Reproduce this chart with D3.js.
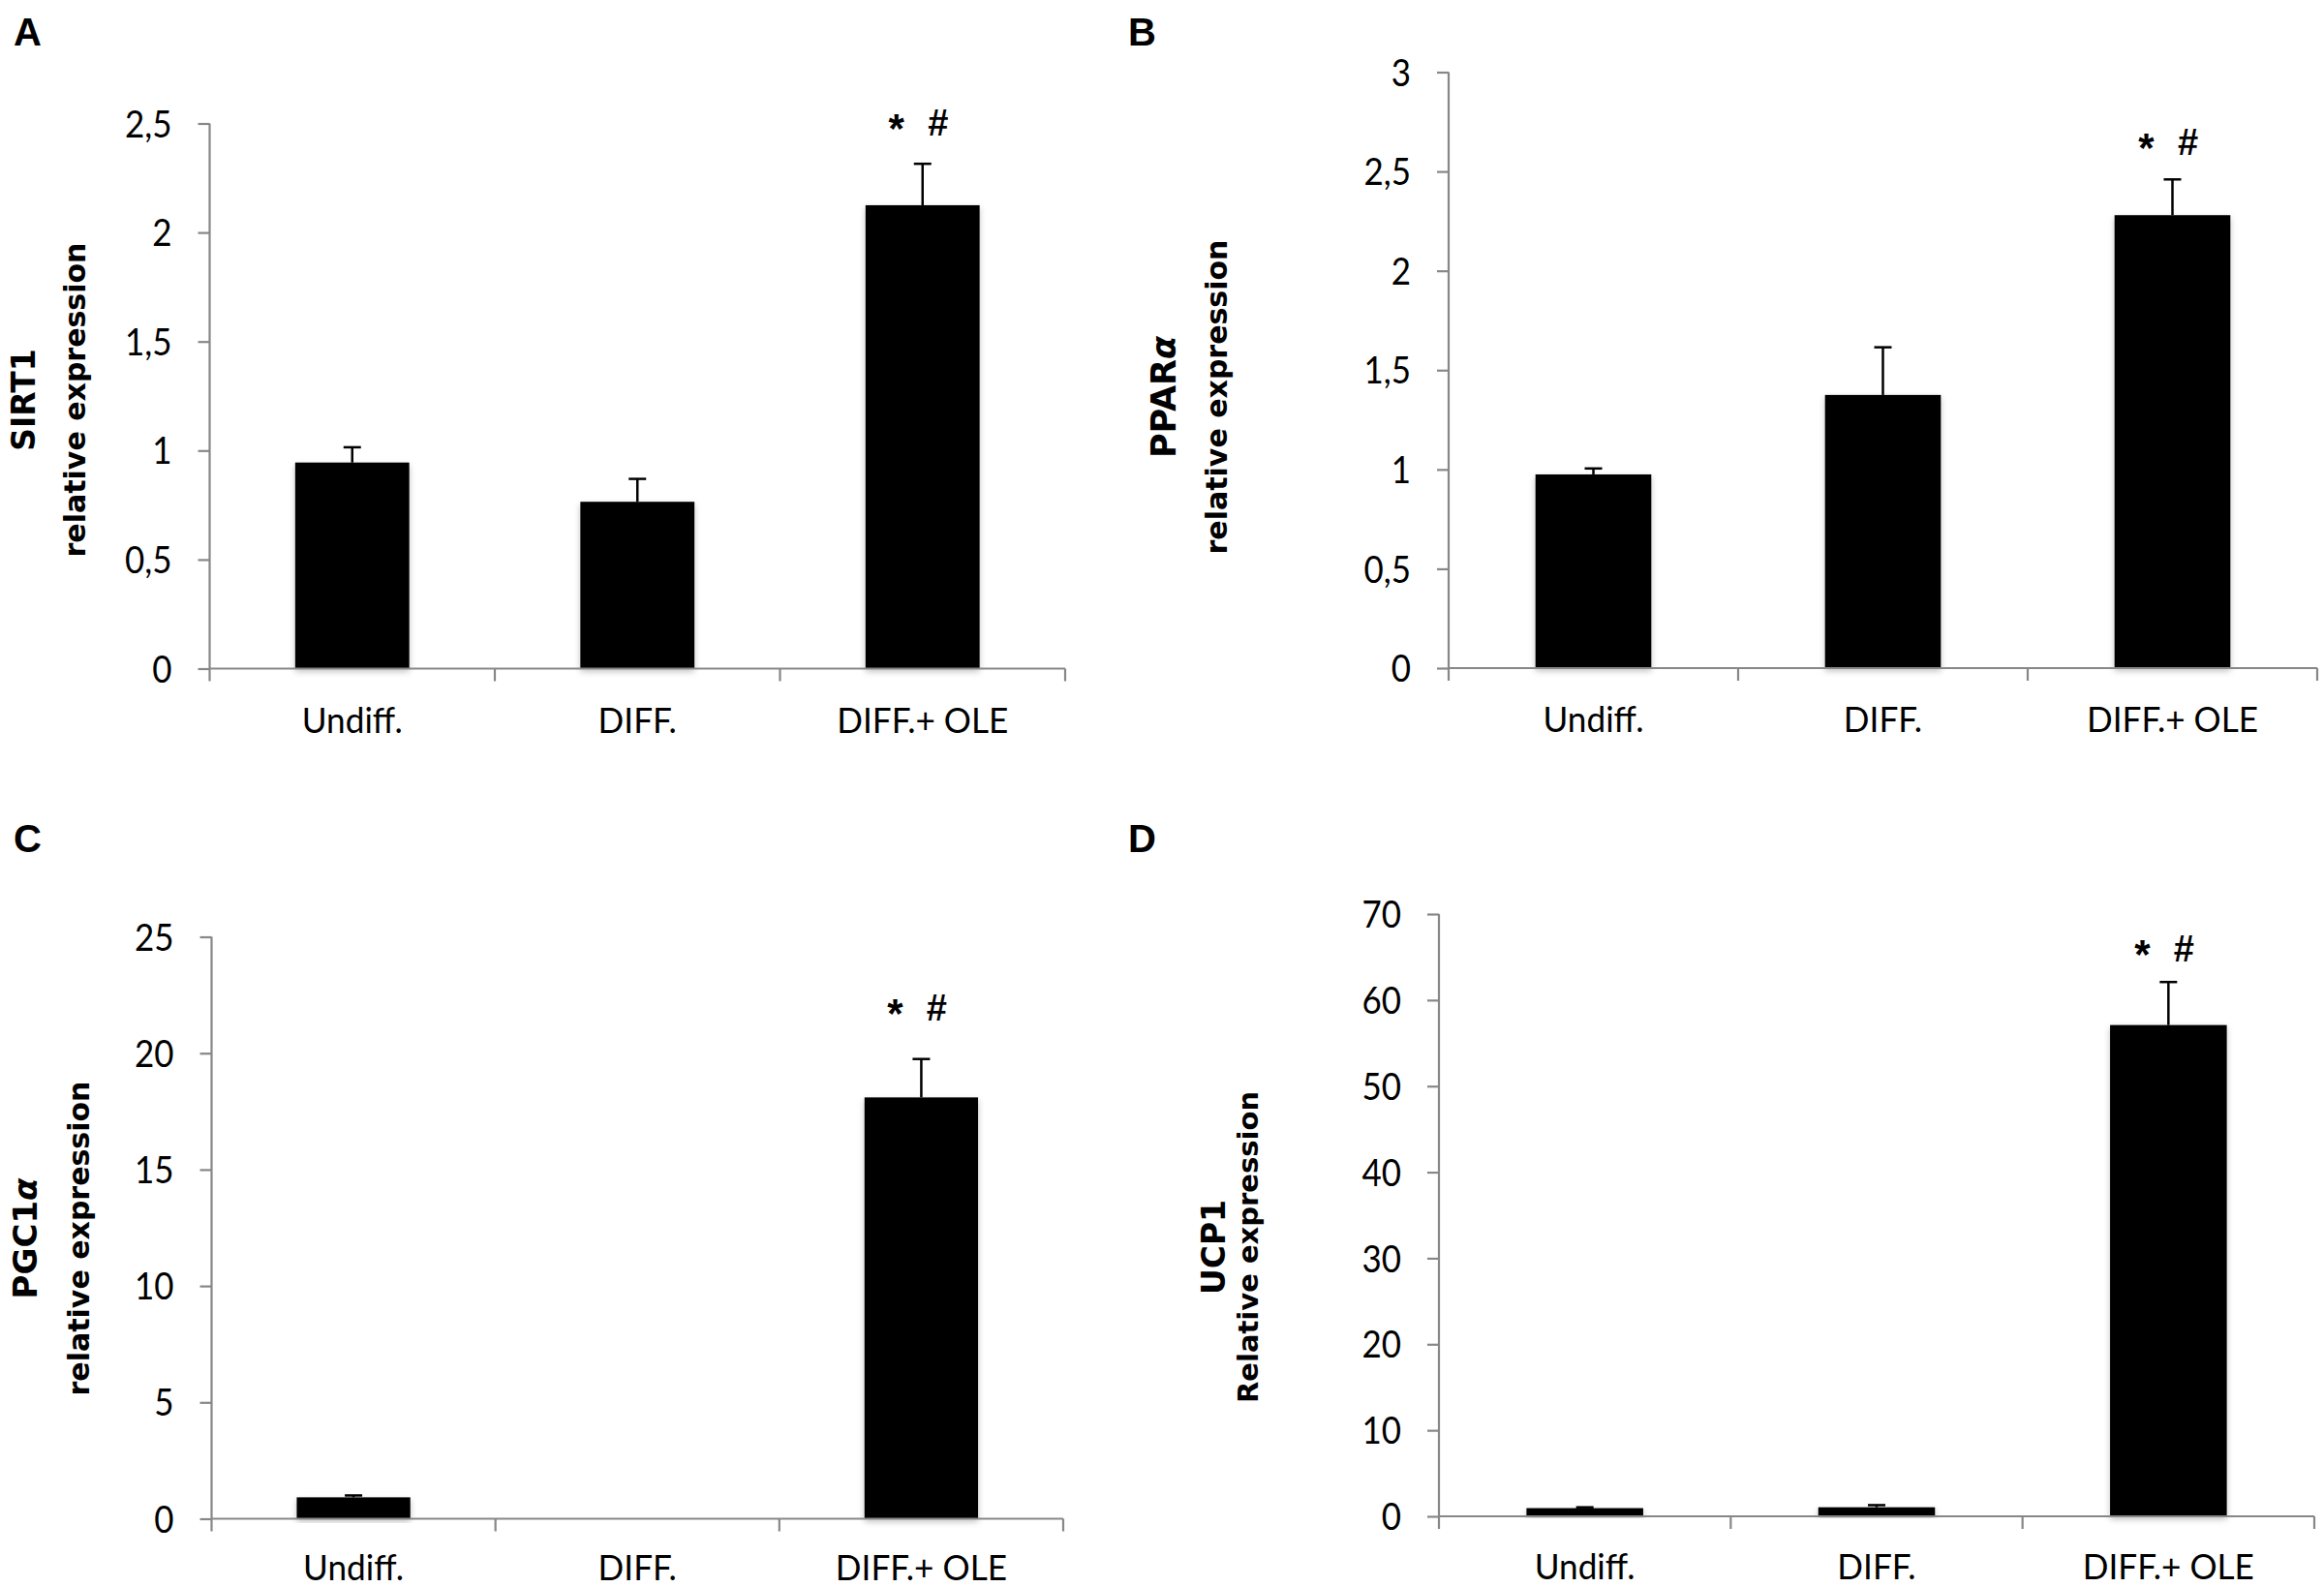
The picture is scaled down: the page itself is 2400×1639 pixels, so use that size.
<!DOCTYPE html>
<html>
<head>
<meta charset="utf-8">
<script src="https://cdn.jsdelivr.net/npm/d3@7"></script>
<style>
  html, body { margin: 0; padding: 0; background: #fff; }
  svg { display: block; }
</style>
</head>
<body>
<script>
// ---------------- DATA ----------------
const categories = ["Undiff.", "DIFF.", "DIFF.+ OLE"];

const sirt1Values = [0.945, 0.765, 2.125];
const sirt1Errors = [0.07, 0.105, 0.19];
const sirt1Ticks  = [0, 0.5, 1, 1.5, 2, 2.5];

const pparaValues = [0.975, 1.375, 2.28];
const pparaErrors = [0.03, 0.24, 0.18];
const pparaTicks  = [0, 0.5, 1, 1.5, 2, 2.5, 3];

const pgc1aValues = [0.92, 0, 18.1];
const pgc1aErrors = [0.08, 0, 1.65];
const pgc1aTicks  = [0, 5, 10, 15, 20, 25];

const ucp1Values = [0.95, 1.05, 57.1];
const ucp1Errors = [0.1, 0.25, 5.0];
const ucp1Ticks  = [0, 10, 20, 30, 40, 50, 60, 70];

const panelLetters = ["A", "B", "C", "D"];
const geneNames = ["SIRT1", "PPAR", "PGC1", "UCP1"];
const geneGreek = ["", "α", "α", ""];
const subLabels = ["relative expression", "relative expression", "relative expression", "Relative expression"];
const significance = ["*", "#"];
const significanceLevel = [2.5, 2.64, 21.9, 65.8]; // value level of "* #" marks above last bar

// ---------------- LAYOUT ----------------
const W = 2400, H = 1639;
const svg = d3.select("body").append("svg").attr("width", W).attr("height", H);

const defs = svg.append("defs");
const f = defs.append("filter").attr("id", "shadow").attr("x", "-10%").attr("y", "-10%").attr("width", "120%").attr("height", "130%");
f.append("feDropShadow").attr("dx", 0).attr("dy", 3).attr("stdDeviation", 3)
  .attr("flood-color", "#000").attr("flood-opacity", 0.25);

const panels = [
  { values: sirt1Values, errors: sirt1Errors, ticks: sirt1Ticks,
    x0: 216.5, x1: 1100, yTop: 127.5, yBot: 690.5, catDy: 66,
    letter: [14, 47], nameX: 36, subX: 88, labelY: 413, nameSize: 33, subSize: 30 },
  { values: pparaValues, errors: pparaErrors, ticks: pparaTicks,
    x0: 1496, x1: 2393, yTop: 74.5, yBot: 690, catDy: 66,
    letter: [1165, 47], nameX: 1214, subX: 1267, labelY: 410, nameSize: 35, subSize: 30 },
  { values: pgc1aValues, errors: pgc1aErrors, ticks: pgc1aTicks,
    x0: 218.5, x1: 1098, yTop: 967.5, yBot: 1568.5, catDy: 63,
    letter: [14, 880], nameX: 38, subX: 92, labelY: 1279, nameSize: 34, subSize: 30 },
  { values: ucp1Values, errors: ucp1Errors, ticks: ucp1Ticks,
    x0: 1486, x1: 2390, yTop: 944, yBot: 1566, catDy: 65,
    letter: [1165, 880], nameX: 1265, subX: 1299, labelY: 1288, nameSize: 33, subSize: 29 }
];

const tickFont = "Lato, 'Liberation Sans', Arial, sans-serif";
const labelFont = "'DejaVu Sans', Verdana, sans-serif";
const axisColor = "#878787";
const fmt = v => String(v).replace(".", ",");

panels.forEach((p, i) => {
  const g = svg.append("g");
  const ticks = p.ticks;
  const yMax = ticks[ticks.length - 1];

  const x = d3.scaleBand().domain(categories).range([p.x0, p.x1])
    .paddingInner(0.6).paddingOuter(0.3);
  const y = d3.scaleLinear().domain([0, yMax]).range([p.yBot, p.yTop]);

  // bars
  g.selectAll("rect.bar").data(categories).join("rect")
    .attr("class", "bar")
    .attr("x", d => x(d))
    .attr("width", x.bandwidth())
    .attr("y", (d, j) => y(p.values[j]))
    .attr("height", (d, j) => y(0) - y(p.values[j]))
    .attr("fill", "#000")
    .attr("filter", "url(#shadow)");

  // error bars (upper only)
  const capW = 18;
  const eb = g.selectAll("g.err").data(categories).join("g").attr("class", "err")
    .filter((d, j) => p.errors[j] > 0);
  eb.append("line")
    .attr("x1", d => x(d) + x.bandwidth() / 2)
    .attr("x2", d => x(d) + x.bandwidth() / 2)
    .attr("y1", d => y(p.values[categories.indexOf(d)]))
    .attr("y2", d => { const j = categories.indexOf(d); return y(p.values[j] + p.errors[j]); })
    .attr("stroke", "#000").attr("stroke-width", 2.5);
  eb.append("line")
    .attr("x1", d => x(d) + x.bandwidth() / 2 - capW / 2)
    .attr("x2", d => x(d) + x.bandwidth() / 2 + capW / 2)
    .attr("y1", d => { const j = categories.indexOf(d); return y(p.values[j] + p.errors[j]); })
    .attr("y2", d => { const j = categories.indexOf(d); return y(p.values[j] + p.errors[j]); })
    .attr("stroke", "#000").attr("stroke-width", 2.5);

  // y axis
  const tickLen = 12, tickPad = 27;
  const yAxis = d3.axisLeft(y).tickValues(ticks).tickFormat(fmt).tickSize(tickLen).tickPadding(tickPad);
  const ya = g.append("g").attr("transform", `translate(${p.x0},0)`).call(yAxis);
  ya.select(".domain").attr("stroke", axisColor).attr("stroke-width", 2.2)
    .attr("d", `M0,${p.yTop}V${p.yBot}`);
  ya.selectAll(".tick line").attr("stroke", axisColor).attr("stroke-width", 2.2);
  ya.selectAll(".tick text").attr("font-family", tickFont).attr("font-size", 38)
    .attr("fill", "#000").attr("dy", "0.36em")
    .attr("x", 0)
    .attr("transform", `translate(${-(tickLen + tickPad)},0) scale(0.92,1)`);

  // x axis
  const xa = g.append("g").attr("transform", `translate(0,${p.yBot})`);
  xa.append("line").attr("x1", p.x0).attr("x2", p.x1).attr("y1", 0).attr("y2", 0)
    .attr("stroke", axisColor).attr("stroke-width", 2.2);
  const step = x.step();
  const bounds = d3.range(categories.length + 1).map(k => p.x0 + k * step);
  xa.selectAll("line.bt").data(bounds).join("line").attr("class", "bt")
    .attr("x1", d => d).attr("x2", d => d).attr("y1", 0).attr("y2", 13)
    .attr("stroke", axisColor).attr("stroke-width", 2.2);
  xa.selectAll("text.cat").data(categories).join("text").attr("class", "cat")
    .attr("transform", d => `translate(${x(d) + x.bandwidth() / 2},${p.catDy}) scale(0.95,1)`)
    .attr("text-anchor", "middle")
    .attr("font-family", tickFont).attr("font-size", 37).attr("fill", "#000")
    .text(d => d);

  // significance marks above the last bar
  const last = categories[categories.length - 1];
  const cx = x(last) + x.bandwidth() / 2;
  const sy = y(significanceLevel[i]);
  g.append("text").attr("x", cx - 27).attr("y", sy + 19).attr("text-anchor", "middle")
    .attr("font-family", "'Liberation Sans', Arial, sans-serif").attr("font-weight", "bold")
    .attr("font-size", 42).text(significance[0]);
  g.append("text").attr("x", cx + 16).attr("y", sy + 12).attr("text-anchor", "middle")
    .attr("font-family", "'Liberation Sans', Arial, sans-serif").attr("font-weight", "bold")
    .attr("font-size", 38).text(significance[1]);

  // y label (two rotated lines)
  const nm = g.append("text")
    .attr("transform", `translate(${p.nameX},${p.labelY}) rotate(-90)`)
    .attr("text-anchor", "middle")
    .attr("font-family", labelFont).attr("font-weight", "bold")
    .attr("font-size", p.nameSize).attr("fill", "#000");
  nm.append("tspan").text(geneNames[i]);
  if (geneGreek[i]) nm.append("tspan").attr("font-style", "italic").text(geneGreek[i]);

  g.append("text")
    .attr("transform", `translate(${p.subX},${p.labelY}) rotate(-90)`)
    .attr("text-anchor", "middle")
    .attr("font-family", labelFont).attr("font-weight", "bold")
    .attr("font-size", p.subSize).attr("fill", "#000")
    .text(subLabels[i]);

  // panel letter
  g.append("text").attr("x", p.letter[0]).attr("y", p.letter[1])
    .attr("font-family", "'Liberation Sans', Arial, sans-serif").attr("font-weight", "bold")
    .attr("font-size", 40).attr("fill", "#000").text(panelLetters[i]);
});
</script>
</body>
</html>
